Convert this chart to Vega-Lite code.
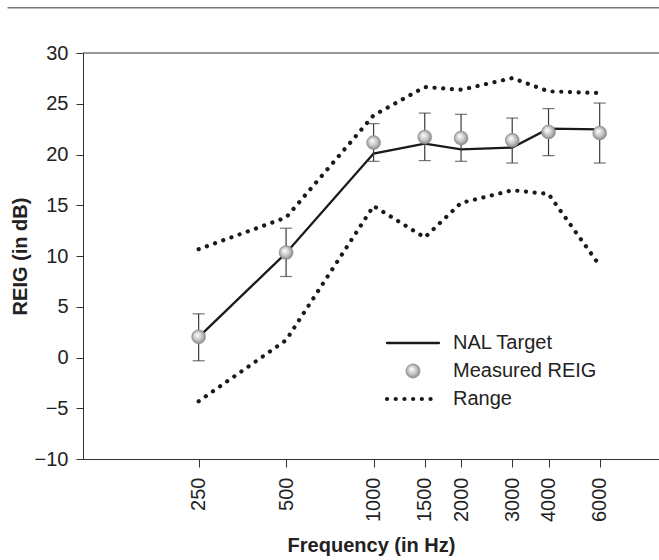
{
  "$schema": "https://vega.github.io/schema/vega-lite/v6.json",
  "width": 576,
  "height": 406,
  "autosize": "none",
  "padding": {"left": 83, "top": 53, "right": 0, "bottom": 101},
  "background": "white",
  "config": {
    "font": "Liberation Sans",
    "view": {"stroke": null},
    "axis": {
      "grid": false,
      "labelFontSize": 20,
      "titleFontSize": 20,
      "titleFontWeight": "bold",
      "labelColor": "#222222",
      "titleColor": "#222222",
      "domainColor": "#333333",
      "tickColor": "#333333",
      "domainWidth": 1,
      "tickWidth": 1
    }
  },
  "datasets": {
    "reig": [
      {"freq": 250, "nal": 2.0, "reig": 2.04, "lo": -0.32, "hi": 4.3},
      {"freq": 500, "nal": 10.3, "reig": 10.34, "lo": 7.98, "hi": 12.74},
      {"freq": 1000, "nal": 20.09, "reig": 21.17, "lo": 19.33, "hi": 23.04},
      {"freq": 1500, "nal": 21.07, "reig": 21.72, "lo": 19.4, "hi": 24.08},
      {"freq": 2000, "nal": 20.51, "reig": 21.62, "lo": 19.33, "hi": 23.96},
      {"freq": 3000, "nal": 20.68, "reig": 21.4, "lo": 19.16, "hi": 23.59},
      {"freq": 4000, "nal": 22.55, "reig": 22.22, "lo": 19.89, "hi": 24.52},
      {"freq": 6000, "nal": 22.48, "reig": 22.12, "lo": 19.16, "hi": 25.07}
    ],
    "range": [
      {"freq": 250, "bound": "upper", "db": 10.67, "series": "Range"},
      {"freq": 500, "bound": "upper", "db": 13.79, "series": "Range"},
      {"freq": 1000, "bound": "upper", "db": 23.86, "series": "Range"},
      {"freq": 1500, "bound": "upper", "db": 26.65, "series": "Range"},
      {"freq": 2000, "bound": "upper", "db": 26.38, "series": "Range"},
      {"freq": 3000, "bound": "upper", "db": 27.53, "series": "Range"},
      {"freq": 4000, "bound": "upper", "db": 26.22, "series": "Range"},
      {"freq": 6000, "bound": "upper", "db": 26.06, "series": "Range"},
      {"freq": 250, "bound": "lower", "db": -4.32, "series": "Range"},
      {"freq": 500, "bound": "lower", "db": 1.71, "series": "Range"},
      {"freq": 1000, "bound": "lower", "db": 14.93, "series": "Range"},
      {"freq": 1500, "bound": "lower", "db": 11.82, "series": "Range"},
      {"freq": 2000, "bound": "lower", "db": 15.23, "series": "Range"},
      {"freq": 3000, "bound": "lower", "db": 16.48, "series": "Range"},
      {"freq": 4000, "bound": "lower", "db": 16.11, "series": "Range"},
      {"freq": 6000, "bound": "lower", "db": 9.06, "series": "Range"}
    ]
  },
  "layer": [
    {
      "data": {"values": [{}]},
      "mark": {"type": "rule", "color": "#333333", "strokeWidth": 1},
      "encoding": {
        "x": {"datum": 55},
        "x2": {"datum": 9600},
        "y": {"datum": 34.45}
      }
    },
    {
      "data": {"values": [{}]},
      "mark": {"type": "rule", "color": "#333333", "strokeWidth": 1},
      "encoding": {"y": {"datum": 30}}
    },
    {
      "data": {"name": "range"},
      "mark": {
        "type": "line",
        "strokeWidth": 4.2,
        "strokeDash": [0.1, 8.6],
        "strokeCap": "round",
        "interpolate": "linear"
      },
      "encoding": {
        "x": {
          "field": "freq",
          "type": "quantitative",
          "title": "Frequency (in Hz)",
          "scale": {"type": "log", "domain": [100, 9600], "nice": false, "zero": false},
          "axis": {
            "values": [250, 500, 1000, 1500, 2000, 3000, 4000, 6000],
            "format": "d",
            "labelAngle": -90,
            "labelAlign": "right",
            "labelBaseline": "middle",
            "labelOverlap": false,
            "labelFlush": false,
            "tickSize": 8,
            "labelPadding": 10,
            "titlePadding": 14
          }
        },
        "y": {
          "field": "db",
          "type": "quantitative",
          "title": "REIG (in dB)",
          "scale": {"domain": [-10, 30], "nice": false, "zero": false},
          "axis": {
            "values": [-10, -5, 0, 5, 10, 15, 20, 25, 30],
            "tickSize": 7,
            "labelPadding": 8,
            "titlePadding": 4
          }
        },
        "detail": {"field": "bound"},
        "color": {
          "field": "series",
          "type": "nominal",
          "scale": {
            "domain": ["NAL Target", "Measured REIG", "Range"],
            "range": ["#1a1a1a", "#9a9a9a", "#1a1a1a"]
          },
          "legend": {
            "title": null,
            "orient": "none",
            "legendX": 294,
            "legendY": 280,
            "symbolSize": 400,
            "symbolType": "M-2.6,0H2.6",
            "symbolStrokeWidth": 2,
            "symbolOffset": 26,
            "labelOffset": 30,
            "labelFontSize": 20,
            "labelColor": "#222222",
            "rowPadding": 8,
            "encode": {
              "symbols": {
                "update": {
                  "shape": {"signal": "datum.value === 'Measured REIG' ? 'M0.7,0C0.7,0.387,0.387,0.7,0,0.7C-0.387,0.7,-0.7,0.387,-0.7,0C-0.7,-0.387,-0.387,-0.7,0,-0.7C0.387,-0.7,0.7,-0.387,0.7,0Z' : 'M-2.6,0H2.6'"},
                  "stroke": {"signal": "datum.value === 'Measured REIG' ? '#8a8a8a' : '#1a1a1a'"},
                  "strokeWidth": {"signal": "datum.value === 'Range' ? 4.2 : datum.value === 'NAL Target' ? 2.3 : 0.5"},
                  "strokeDash": {"signal": "datum.value === 'Range' ? [0.1, 8.6] : [1, 0]"},
                  "strokeCap": {"value": "round"},
                  "fill": {"signal": "datum.value === 'Measured REIG' ? {gradient: 'radial', x1: 0.38, y1: 0.35, r1: 0.02, x2: 0.5, y2: 0.5, r2: 0.55, stops: [{offset: 0, color: '#ffffff'}, {offset: 0.55, color: '#c4c4c4'}, {offset: 1, color: '#7d7d7d'}]} : 'transparent'"},
                  "opacity": {"value": 1}
                }
              }
            }
          }
        }
      }
    },
    {
      "data": {"name": "reig"},
      "mark": {"type": "line", "color": "#1a1a1a", "strokeWidth": 2.3},
      "encoding": {
        "x": {"field": "freq", "type": "quantitative", "title": "Frequency (in Hz)"},
        "y": {"field": "nal", "type": "quantitative", "title": "REIG (in dB)"}
      }
    },
    {
      "data": {"name": "reig"},
      "mark": {"type": "rule", "color": "#3a3a3a", "strokeWidth": 1.2},
      "encoding": {
        "x": {"field": "freq", "type": "quantitative", "title": "Frequency (in Hz)"},
        "y": {"field": "lo", "type": "quantitative", "title": "REIG (in dB)"},
        "y2": {"field": "hi"}
      }
    },
    {
      "data": {"name": "reig"},
      "mark": {"type": "tick", "orient": "horizontal", "color": "#3a3a3a", "size": 12, "thickness": 1.2},
      "encoding": {
        "x": {"field": "freq", "type": "quantitative", "title": "Frequency (in Hz)"},
        "y": {"field": "lo", "type": "quantitative", "title": "REIG (in dB)"}
      }
    },
    {
      "data": {"name": "reig"},
      "mark": {"type": "tick", "orient": "horizontal", "color": "#3a3a3a", "size": 12, "thickness": 1.2},
      "encoding": {
        "x": {"field": "freq", "type": "quantitative", "title": "Frequency (in Hz)"},
        "y": {"field": "hi", "type": "quantitative", "title": "REIG (in dB)"}
      }
    },
    {
      "data": {"name": "reig"},
      "mark": {
        "type": "point",
        "shape": "circle",
        "filled": true,
        "size": 196,
        "opacity": 1,
        "fill": {
          "gradient": "radial",
          "x1": 0.38, "y1": 0.35, "r1": 0.02,
          "x2": 0.5, "y2": 0.5, "r2": 0.55,
          "stops": [
            {"offset": 0, "color": "#ffffff"},
            {"offset": 0.55, "color": "#c4c4c4"},
            {"offset": 1, "color": "#7d7d7d"}
          ]
        },
        "stroke": "#8a8a8a",
        "strokeWidth": 0.5
      },
      "encoding": {
        "x": {"field": "freq", "type": "quantitative", "title": "Frequency (in Hz)"},
        "y": {"field": "reig", "type": "quantitative", "title": "REIG (in dB)"}
      }
    }
  ]
}
